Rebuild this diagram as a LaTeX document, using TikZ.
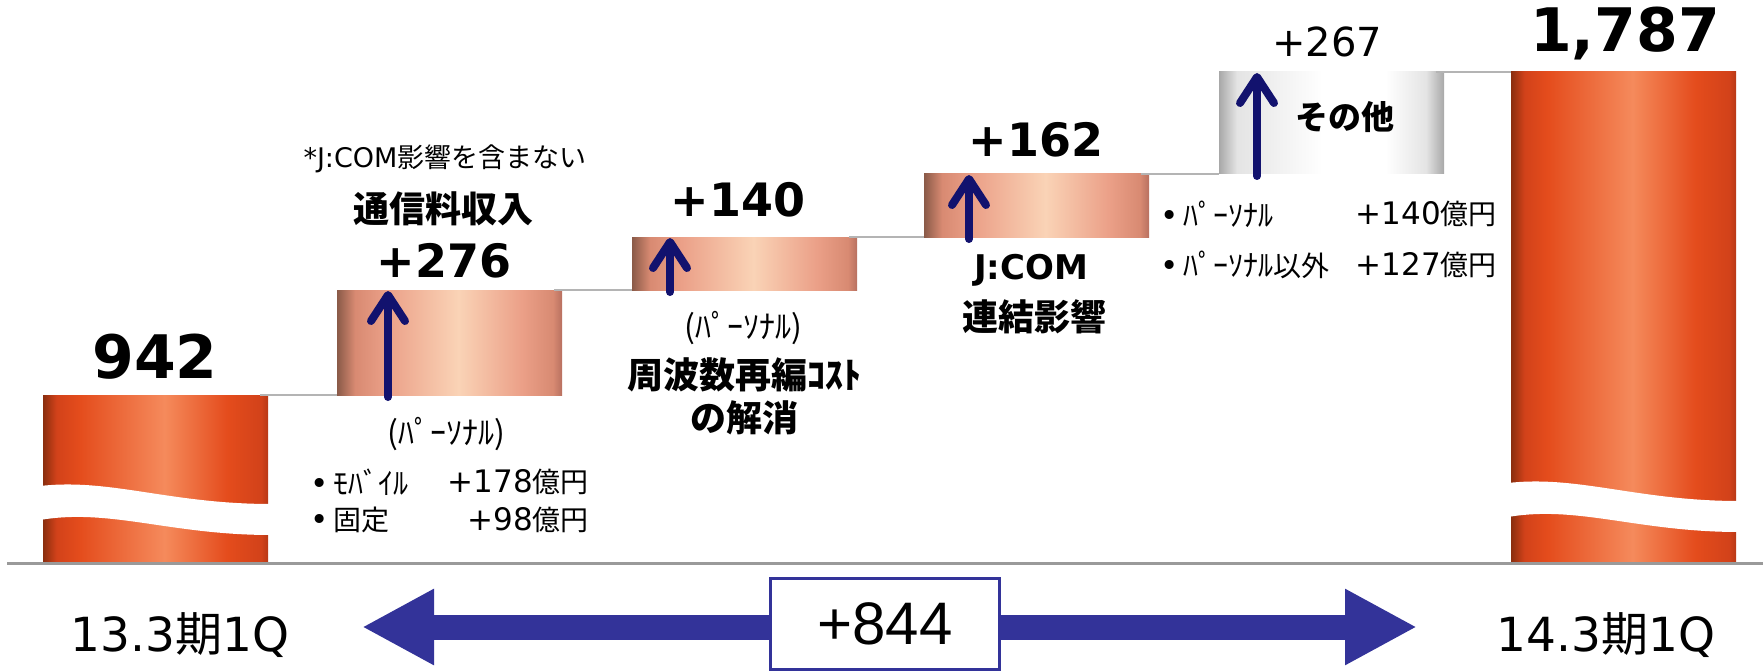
\documentclass[tikz,border=0pt]{standalone}
\usepackage{fontspec}
\setmainfont{DejaVu Sans}
\newfontfamily\jp{Noto Sans CJK JP}
\newfontfamily\arialf{Liberation Sans}
\usepackage{tikz}
\usetikzlibrary{
    arrows.meta,
    calc,
    positioning
}
\definecolor{navyarr}{HTML}{12126E}
\definecolor{totblue}{HTML}{333399}
\definecolor{linkgray}{HTML}{B4B4B4}
\definecolor{axisgray}{HTML}{9A9A9A}
\definecolor{oA}{HTML}{8A2E0E}
\definecolor{oB}{HTML}{D2421A}
\definecolor{oC}{HTML}{E44C1C}
\definecolor{oD}{HTML}{F58A5C}
\definecolor{oE}{HTML}{B83816}
\definecolor{sA}{HTML}{8A5A48}
\definecolor{sB}{HTML}{D88A72}
\definecolor{sC}{HTML}{EBA088}
\definecolor{sD}{HTML}{FAD3B6}
\definecolor{sE}{HTML}{B87060}
\definecolor{gA}{HTML}{A8A8A8}
\definecolor{gB}{HTML}{E4E4E4}
\definecolor{gC}{HTML}{FFFFFF}
\pgfdeclarehorizontalshading{orangeshade}{100bp}{color(0bp)=(oA); color(25bp)=(oA);
    color(28bp)=(oB); color(33bp)=(oC); color(52bp)=(oD); color(66bp)=(oC);
    color(73.5bp)=(oB); color(75bp)=(oE); color(100bp)=(oE)}
\pgfdeclarehorizontalshading{salmonshade}{100bp}{color(0bp)=(sA); color(25bp)=(sA);
    color(29bp)=(sB); color(36bp)=(sC); color(52bp)=(sD); color(66bp)=(sC);
    color(73bp)=(sB); color(75bp)=(sE); color(100bp)=(sE)}
\pgfdeclarehorizontalshading{grayshade}{100bp}{color(0bp)=(gA); color(25bp)=(gA);
    color(29bp)=(gB); color(48bp)=(gC); color(62bp)=(gC); color(71bp)=(gB); color(75bp)=(gA); color(100bp)=(gA)}
\tikzset{
    barbase/.style={anchor=north west, minimum width=225pt, inner sep=0pt, outer sep=0pt, shade},
    orangebar/.style={barbase, shading=orangeshade},
    salmonbar/.style={barbase, shading=salmonshade},
    graybar/.style={barbase, shading=grayshade},
    joinline/.style={draw=linkgray, line width=2pt},
    uparr/.style={navyarr, line width=8pt, line cap=round, -{Straight Barb[length=26pt, width=34pt, round]}},
    bignum/.style={font=\bfseries\fontsize{60}{60}\selectfont, inner sep=0pt},
    stepnum/.style={font=\bfseries\fontsize{46}{46}\selectfont, inner sep=0pt},
    regnum/.style={font=\fontsize{40}{40}\selectfont, inner sep=0pt},
    jpbold/.style={font=\jp\bfseries\fontsize{36}{43}\selectfont, inner sep=0pt},
    latbold/.style={font=\bfseries\fontsize{34}{34}\selectfont, inner sep=0pt},
    notetext/.style={font=\fontsize{27}{27}\selectfont, inner sep=0pt},
    kana/.style={font=\jp\fontsize{32}{32}\selectfont, inner sep=0pt},
    listtext/.style={font=\fontsize{31}{31}\selectfont, inner sep=0pt},
    period/.style={font=\fontsize{47}{47}\selectfont, inner sep=0pt},
    totbox/.style={draw=totblue, line width=3pt, fill=white, minimum width=229pt, minimum height=91pt,
        font=\arialf\fontsize{60}{60}\selectfont},
    totarr/.style={totblue, line width=25pt, -{Triangle[length=72pt, width=71pt]}}
}
\newcommand{\kn}{\jp\fontsize{30}{30}\selectfont}
\newcommand{\kj}{\jp\fontsize{28}{28}\selectfont}
\newcommand{\barcut}[2]{%
    \fill[white] (#1-3,#2) .. controls (#1+67,#2-8) and (#1+127,#2+18) .. (#1+228,#2+18)
        -- (#1+228,#2+49) .. controls (#1+127,#2+49) and (#1+67,#2+22) .. (#1-3,#2+34) -- cycle;}

\begin{document}
\begin{tikzpicture}[x=1pt, y=-1pt]
    \useasboundingbox (0,0) rectangle (1763,671);
    \node[orangebar, minimum height=168pt] (b1) at (43,395) {};
    \node[salmonbar, minimum height=105pt] (b2) at (337,290) {};
    \node[salmonbar, minimum height=53pt] (b3) at (632,237) {};
    \node[salmonbar, minimum height=63pt] (b4) at (924,174) {};
    \node[graybar, minimum height=102pt] (b5) at (1219,72) {};
    \node[orangebar, minimum height=491pt] (b6) at (1511,72) {};
    \barcut{43}{486}
    \barcut{1511}{483}
    \draw[line width=3pt, axisgray] (7,563) -- (1763,563);
    \foreach \a/\b in {b1/b2, b2/b3, b3/b4, b4/b5, b5/b6} {
        \draw[joinline] ([xshift=-8pt]\a.north east) -- (\a.north east -| \b.west);
    }
    \foreach \b/\dx in {b2/51, b3/38, b4/45, b5/38} {
        \draw[uparr] ([xshift=\dx pt, yshift=-2pt]\b.south west) -- ([xshift=\dx pt, yshift=-1pt]\b.north west);
    }
    \node[bignum] (v942) at (155,357) {942};
    \node[bignum] (v1787) at (1625,33) {1,787};
    \node[notetext] (note) at (445,159) {*J:COM{\jp 影響を含まない}};
    \node[jpbold] (tsushin) at (443,209) {通信料収入};
    \node[stepnum] (v276) at (444,261) {+276};
    \node[stepnum] (v140) at (738,200) {+140};
    \node[stepnum] (v162) at (1036,140) {+162};
    \node[regnum] (v267) at (1327,42) {+267};
    \node[jpbold, font=\jp\bfseries\fontsize{33}{33}\selectfont] (sonota) at (1345,117) {その他};
    \node[kana] (pers1) at (446,434) {(ﾊﾟｰｿﾅﾙ)};
    \node[listtext, anchor=west] (mob) at (310,482) {•\,{\kn ﾓﾊﾞｲﾙ}};
    \node[listtext, anchor=east] (mobv) at (589,482) {+178{\kj 億円}};
    \node[listtext, anchor=west] (fix) at (310,520) {•\,{\kj 固定}};
    \node[listtext, anchor=east] (fixv) at (589,520) {+98{\kj 億円}};
    \node[kana] (pers2) at (743,328) {(ﾊﾟｰｿﾅﾙ)};
    \node[jpbold, align=center] (cost) at (744,396) {周波数再編ｺｽﾄ\\の解消};
    \node[latbold] (jcom) at (1031,270) {J:COM};
    \node[jpbold] (renketsu) at (1034,317) {連結影響};
    \node[listtext, anchor=west] (pers) at (1160,214) {•\,{\kn ﾊﾟｰｿﾅﾙ}};
    \node[listtext, anchor=east] (persv) at (1497,214) {+140{\kj 億円}};
    \node[listtext, anchor=west] (other) at (1160,265) {•\,{\kn ﾊﾟｰｿﾅﾙ{\kj 以外}}};
    \node[listtext, anchor=east] (otherv) at (1497,265) {+127{\kj 億円}};
    \node[period] (p13) at (180,635) {13.3{\jp 期}1Q};
    \node[period] (p14) at (1606,635) {14.3{\jp 期}1Q};
    \coordinate (mid) at (885,627);
    \coordinate (ltip) at (362,627);
    \coordinate (rtip) at (1417,627);
    \draw[totarr] (mid) -- (ltip);
    \draw[totarr] (mid) -- (rtip);
    \node[totbox] (tot) at (885,624) {+844};
\end{tikzpicture}
\end{document}
